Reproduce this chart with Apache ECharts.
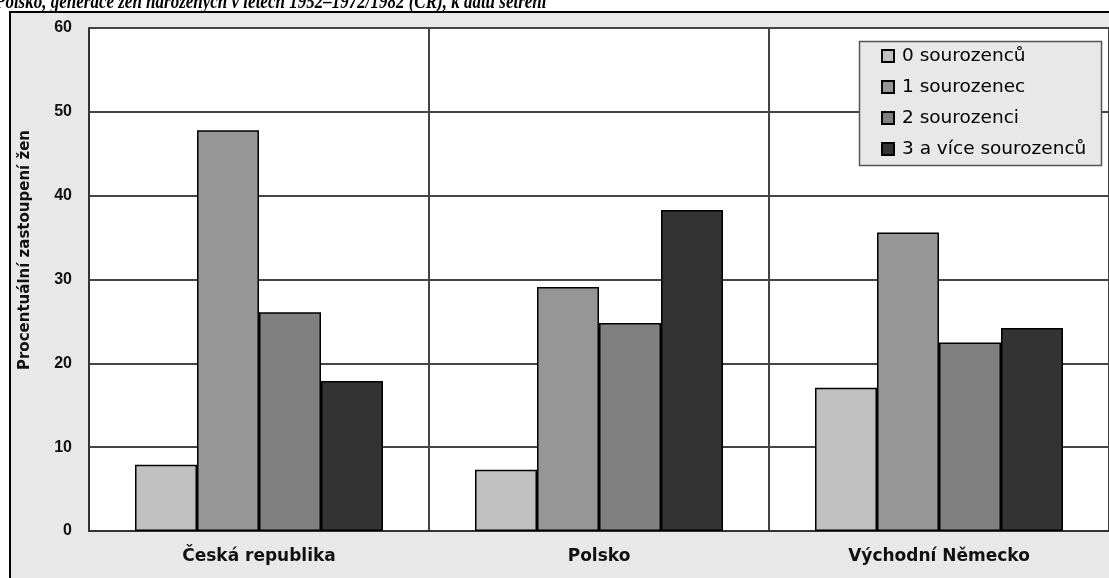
<!DOCTYPE html>
<html>
<head>
<meta charset="utf-8">
<script src="https://cdn.jsdelivr.net/npm/echarts@6/dist/echarts.min.js"></script>
<style>
html,body{margin:0;padding:0;background:#fff;}
#chart{width:1109px;height:578px;}
</style>
</head>
<body>
<div id="chart"></div>
<script>
const titleText = 'Polsko, generace žen narozených v letech 1952–1972/1982 (ČR), k datu šetření';
const yAxisName = 'Procentuální zastoupení žen';
const categories = ['Česká republika', 'Polsko', 'Východní Německo'];
const seriesNames = ['0 sourozenců', '1 sourozenec', '2 sourozenci', '3 a více sourozenců'];
const sib0 = [7.9, 7.3, 17.1];
const sib1 = [47.8, 29.1, 35.6];
const sib2 = [26.1, 24.8, 22.5];
const sib3 = [17.9, 38.3, 24.2];
const colors = ['#c0c0c0', '#969696', '#808080', '#333333'];
const seriesValues = [sib0, sib1, sib2, sib3];

const chart = echarts.init(document.getElementById('chart'), null, {renderer: 'canvas'});
const option = {
  animation: false,
  backgroundColor: '#ffffff',
  graphic: [
    {type: 'rect', z: -10, shape: {x: 10, y: 12, width: 1200, height: 700},
     style: {fill: '#e8e8e8', stroke: '#000', lineWidth: 2}},
    {type: 'text', z: 10, x: -5, y: 12.5, scaleX: 0.85,
     style: {text: titleText, font: 'bold italic 20px "Liberation Serif"', fill: '#000', verticalAlign: 'bottom', align: 'left'}},
    {type: 'rect', z: 3, shape: {x: 859.5, y: 41.5, width: 242, height: 124},
     style: {fill: '#e8e8e8', stroke: '#555', lineWidth: 1.5}}
  ],
  legend: {
    orient: 'vertical', left: 881, top: 46.5, padding: 0, z: 5,
    itemWidth: 12, itemHeight: 12, itemGap: 12,
    icon: 'rect',
    textStyle: {fontFamily: 'DejaVu Sans', fontSize: 18.5, color: '#000', lineHeight: 19, padding: [0, 0, 0, 3]},
    data: seriesNames
  },
  grid: {left: 89, top: 28, width: 1024, bottom: 47, show: true, backgroundColor: '#fff', borderWidth: 0},
  xAxis: {
    type: 'category', data: categories,
    axisLine: {lineStyle: {color: '#333', width: 2}},
    axisTick: {show: false},
    axisLabel: {margin: 17, fontFamily: 'DejaVu Sans', fontWeight: 'bold', fontSize: 17, color: '#111'},
    splitLine: {show: true, lineStyle: {color: '#444', width: 2}}
  },
  yAxis: {
    type: 'value', min: 0, max: 60, interval: 10,
    name: yAxisName, nameLocation: 'middle', nameGap: 56,
    nameTextStyle: {fontFamily: 'DejaVu Sans', fontWeight: 'bold', fontSize: 15, color: '#111', padding: [0, 0, 0, 59]},
    axisLine: {show: true, lineStyle: {color: '#333', width: 2}},
    axisTick: {show: false},
    axisLabel: {margin: 17, fontFamily: 'Liberation Sans', fontWeight: 'bold', fontSize: 16, color: '#111'},
    splitLine: {show: true, lineStyle: {color: '#444', width: 2}}
  },
  series: seriesNames.map((n, i) => ({
    name: n, type: 'bar', data: seriesValues[i], barWidth: 62, barGap: '0%',
    itemStyle: {color: colors[i], borderColor: '#000', borderWidth: 1.5}
  }))
};
chart.setOption(option);
</script>
</body>
</html>
